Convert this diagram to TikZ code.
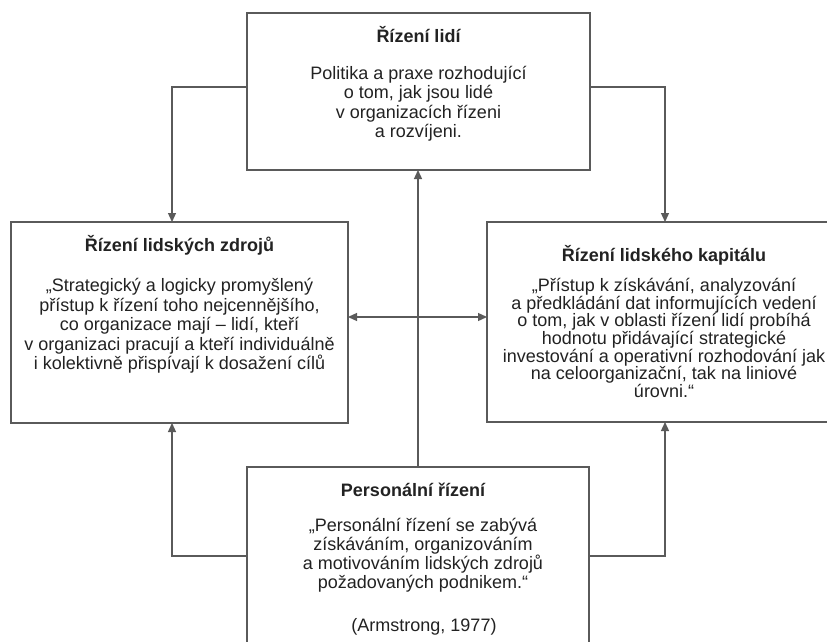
\documentclass[tikz,border=0pt]{standalone}
\usepackage{fontspec}
\setmainfont{Liberation Sans}
\usetikzlibrary{arrows.meta}
\definecolor{linec}{HTML}{5A5A5A}
\definecolor{txt}{HTML}{222222}
\begin{document}
\begin{tikzpicture}[x=1pt,y=-1pt,
  box/.style={draw=linec, line width=1.3pt, inner sep=0pt, outer sep=0pt, fill=white},
  conn/.style={draw=linec, line width=1.3pt},
  tip/.style={-{Triangle[length=9pt,width=8pt]}},
  dtip/.style={{Triangle[length=9pt,width=8pt]}-{Triangle[length=9pt,width=8pt]}},
  ttl/.style={font=\fontsize{18}{19.5}\selectfont\bfseries, text=txt, anchor=base, inner sep=0pt},
  body/.style={font=\fontsize{18}{19.5}\selectfont, text=txt, align=center, anchor=base, inner sep=0pt},
  bodyb/.style={font=\fontsize{18}{19.1}\selectfont, text=txt, align=center, anchor=base, inner sep=0pt},
  bodyt/.style={font=\fontsize{18}{17.6}\selectfont, text=txt, align=center, anchor=base, inner sep=0pt}]
\useasboundingbox (0,0) rectangle (827,642);
\clip (0,0) rectangle (827,642);
\fill[white] (0,0) rectangle (827,642);

% boxes
\node[box, minimum width=343pt, minimum height=157pt] (top) at (418.5,91.5) {};
\node[box, minimum width=337pt, minimum height=201pt] (lbox) at (179.5,322.5) {};
\node[box, minimum width=354pt, minimum height=200pt] (rbox) at (664,322) {};
\node[box, minimum width=342pt, minimum height=200pt] (bbox) at (418,567) {};

% junction coordinates
\coordinate (jl) at (172,87);
\coordinate (jr) at (665,87);
\coordinate (bl) at (172,556);
\coordinate (br) at (665,556);
\coordinate (hm) at (0,317);

% connectors
\draw[conn,tip] (top.west |- jl) -| (lbox.north -| jl);
\draw[conn,tip] (top.east |- jr) -| (rbox.north -| jr);
\draw[conn,tip] (bbox.west |- bl) -| (lbox.south -| bl);
\draw[conn,tip] (bbox.east |- br) -| (rbox.south -| br);
\draw[conn,tip] (bbox.north) -- (bbox.north |- top.south);
\draw[conn,dtip] (lbox.east |- hm) -- (rbox.west |- hm);

% texts (base anchor = baseline of the last line)
\node[ttl] (t1) at (418.5,42.3) {Řízení lidí};
\node[body] (b1) at (418.5,137.5) {Politika a praxe rozhodující\\o tom, jak jsou lidé\\v organizacích řízeni\\a rozvíjeni.};

\node[ttl] (t2) at (179.5,251.7) {Řízení lidských zdrojů};
\node[body] (b2) at (179.5,369.7) {„Strategický a logicky promyšlený\\přístup k řízení toho nejcennějšího,\\co organizace mají – lidí, kteří\\v organizaci pracují a kteří individuálně\\i kolektivně přispívají k dosažení cílů};

\node[ttl] (t3) at (664,261.7) {Řízení lidského kapitálu};
\node[bodyt] (b3) at (664,397.3) {„Přístup k získávání, analyzování\\a předkládání dat informujících vedení\\o tom, jak v oblasti řízení lidí probíhá\\hodnotu přidávající strategické\\investování a operativní rozhodování jak\\na celoorganizační, tak na liniové\\úrovni.“};

\node[ttl] (t4) at (413,496) {Personální řízení};
\node[bodyb] (b4) at (423,588.3) {„Personální řízení se zabývá\\získáváním, organizováním\\a motivováním lidských zdrojů\\požadovaných podnikem.“};
\node[body] (b5) at (424,631) {(Armstrong, 1977)};
\end{tikzpicture}
\end{document}
